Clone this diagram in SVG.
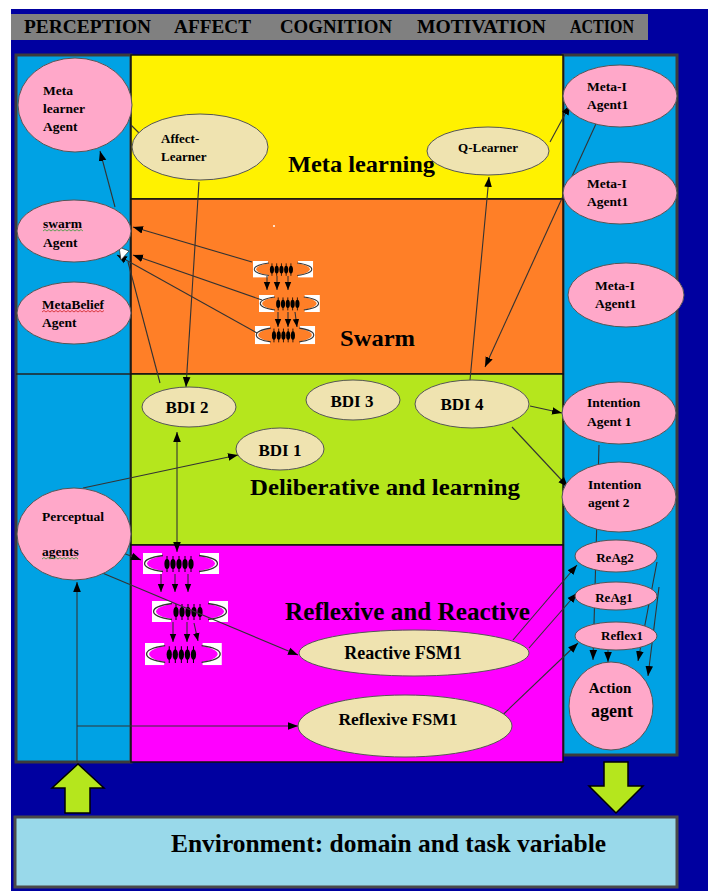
<svg xmlns="http://www.w3.org/2000/svg" xmlns:xlink="http://www.w3.org/1999/xlink" width="715" height="891" viewBox="0 0 715 891">
<style>
.t{font-family:"Liberation Serif","Times New Roman",serif;font-weight:bold;fill:#000}
.s{font-size:13.5px}
.b{font-size:17px}
.L{font-size:24px}
.pink{fill:#FFA8C9;stroke:#555;stroke-width:1}
.beige{fill:#EFE3B0;stroke:#555;stroke-width:1}
.ln{stroke:#333;stroke-width:1.1;fill:none}
.band{stroke:#111;stroke-width:1.5}
.col{fill:#00A2E4;stroke:#3c3c3c;stroke-width:3}
</style>
<defs>
<marker id="ah" viewBox="0 0 10 10" refX="10" refY="5" markerWidth="10" markerHeight="10" markerUnits="userSpaceOnUse" orient="auto-start-reverse"><path d="M0,1.2 L10,5 L0,8.8 z" fill="#000"/></marker>
<marker id="ahs" viewBox="0 0 10 10" refX="10" refY="5" markerWidth="8" markerHeight="8" markerUnits="userSpaceOnUse" orient="auto"><path d="M0,1 L10,5 L0,9 z" fill="#000"/></marker>
<g id="swarm">
<rect x="0" y="0" width="19" height="21" fill="#fff"/>
<rect x="57" y="0" width="19" height="21" fill="#fff"/>
<ellipse cx="38" cy="10.5" rx="34" ry="9" fill="currentColor"/>
<path d="M20,2.5 A34,9 0 0 0 20,18.5 M56,2.5 A34,9 0 0 1 56,18.5" fill="none" stroke="#333" stroke-width="1.3"/>
<path d="M24,3v16 M30,3v16 M36,3v16 M42,3v16 M48,3v16" stroke="#000" stroke-width="1"/>
<g fill="#000"><ellipse cx="24" cy="11" rx="2.6" ry="5"/><ellipse cx="30" cy="11" rx="2.6" ry="5"/><ellipse cx="36" cy="11" rx="2.6" ry="5"/><ellipse cx="42" cy="11" rx="2.6" ry="5"/><ellipse cx="48" cy="11" rx="2.6" ry="5"/></g>
</g>
</defs>

<rect x="0" y="0" width="715" height="891" fill="#fff"/>
<rect x="11" y="9" width="697" height="882" fill="#0000A0"/>

<g id="header">
<rect x="11" y="14" width="637" height="26" fill="#808080"/>
<text class="t" x="24" y="33" font-size="19" textLength="127" lengthAdjust="spacingAndGlyphs">PERCEPTION</text>
<text class="t" x="174" y="33" font-size="19" textLength="77" lengthAdjust="spacingAndGlyphs">AFFECT</text>
<text class="t" x="280" y="33" font-size="19" textLength="112" lengthAdjust="spacingAndGlyphs">COGNITION</text>
<text class="t" x="417" y="33" font-size="19" textLength="129" lengthAdjust="spacingAndGlyphs">MOTIVATION</text>
<text class="t" x="570" y="33" font-size="19" textLength="64" lengthAdjust="spacingAndGlyphs">ACTION</text>
</g>

<g id="frame">
<rect class="col" x="16" y="55" width="115" height="707"/>
<line x1="16" y1="374" x2="131" y2="374" stroke="#222" stroke-width="1.5"/>
<rect class="col" x="563" y="55" width="114" height="700"/>
<rect class="band" x="131" y="55" width="432" height="144" fill="#FFF200"/>
<rect class="band" x="131" y="199" width="432" height="175" fill="#FF7F27"/>
<rect class="band" x="131" y="374" width="432" height="171" fill="#B5E61D"/>
<rect class="band" x="131" y="545" width="432" height="217" fill="#FF00FF"/>
<text class="t L" x="288" y="172" textLength="147" lengthAdjust="spacingAndGlyphs">Meta learning</text>
<text class="t L" x="340" y="346" textLength="75" lengthAdjust="spacingAndGlyphs">Swarm</text>
<text class="t L" x="250" y="495" textLength="270" lengthAdjust="spacingAndGlyphs">Deliberative  and learning</text>
<text class="t" x="285" y="620" font-size="25" textLength="245" lengthAdjust="spacingAndGlyphs">Reflexive and Reactive</text>
<circle cx="274" cy="226" r="1" fill="#fff"/>
</g>

<g id="environment">
<rect x="15" y="817" width="662" height="70" fill="#99D9EA" stroke="#4a4a4a" stroke-width="3"/>
<text class="t" x="171" y="852" font-size="25" textLength="435" lengthAdjust="spacingAndGlyphs">Environment:  domain and task variable</text>
</g>
<g id="arrow-up"><path d="M65,813 L65,788 L52,788 L78,764 L104,788 L90,788 L90,813 Z" fill="#B5E61D" stroke="#000" stroke-width="1.5"/></g>
<g id="arrow-down"><path d="M604,762 L628,762 L628,786 L643,786 L616,813 L589,786 L604,786 Z" fill="#B5E61D" stroke="#000" stroke-width="1.5"/></g>

<g id="swarm-icons">
<use xlink:href="#swarm" color="#FF7F27" transform="translate(253,261) scale(0.79,0.78)"/>
<use xlink:href="#swarm" color="#FF7F27" transform="translate(259,295) scale(0.8,0.81)"/>
<use xlink:href="#swarm" color="#FF7F27" transform="translate(255,326) scale(0.79,0.86)"/>
<use xlink:href="#swarm" color="#FF00FF" transform="translate(143,553)"/>
<use xlink:href="#swarm" color="#FF00FF" transform="translate(152,601)"/>
<use xlink:href="#swarm" color="#FF00FF" transform="translate(145,643) scale(1.01,1.05)"/>
</g>

<g id="connectors">
<line class="ln" x1="131" y1="125" x2="148" y2="142"/>
<line class="ln" x1="115" y1="207" x2="100" y2="151" marker-end="url(#ah)"/>
<line class="ln" x1="252" y1="262" x2="133" y2="227" marker-end="url(#ah)"/>
<line class="ln" x1="262" y1="300" x2="133" y2="255" marker-end="url(#ah)"/>
<line class="ln" x1="257" y1="333" x2="117" y2="255" marker-end="url(#ah)"/>
<path d="M119,247 L129,251 L121,260 Z" fill="#fff" stroke="#333" stroke-width="0.8"/>
<line class="ln" x1="128" y1="262" x2="160" y2="383"/>
<line class="ln" x1="199" y1="182" x2="186" y2="387" marker-end="url(#ah)"/>
<line class="ln" x1="177" y1="432" x2="177" y2="552" marker-start="url(#ah)" marker-end="url(#ah)"/>
<line class="ln" x1="83" y1="488" x2="238" y2="455" marker-end="url(#ah)"/>
<line class="ln" x1="123" y1="553" x2="141" y2="560" marker-end="url(#ah)"/>
<line class="ln" x1="100" y1="572" x2="298" y2="655" marker-end="url(#ah)"/>
<line class="ln" stroke="#666" x1="77" y1="762" x2="77" y2="582" marker-end="url(#ah)"/>
<line class="ln" stroke="#666" x1="77" y1="726" x2="298" y2="726" marker-end="url(#ah)"/>
<line class="ln" x1="470" y1="380" x2="489" y2="177" marker-end="url(#ah)"/>
<line class="ln" x1="550" y1="142" x2="570" y2="105" marker-end="url(#ah)"/>
<line class="ln" x1="600" y1="115" x2="485" y2="367" marker-end="url(#ah)"/>
<line class="ln" x1="530" y1="406" x2="562" y2="413" marker-end="url(#ah)"/>
<line class="ln" x1="512" y1="427" x2="568" y2="487" marker-end="url(#ah)"/>
<line class="ln" x1="513" y1="640" x2="577" y2="565" marker-end="url(#ah)"/>
<line class="ln" x1="529" y1="648" x2="577" y2="593" marker-end="url(#ah)"/>
<line class="ln" x1="490" y1="727" x2="578" y2="643" marker-end="url(#ah)"/>
<line class="ln" x1="599" y1="445" x2="593" y2="660" marker-end="url(#ah)"/>
<line class="ln" x1="608" y1="650" x2="608" y2="662" marker-end="url(#ah)"/>
<line class="ln" x1="657" y1="562" x2="638" y2="661" marker-end="url(#ah)"/>
<line class="ln" x1="659" y1="587" x2="648" y2="676" marker-end="url(#ah)"/>
<line class="ln" x1="161" y1="574" x2="161" y2="592" marker-end="url(#ahs)"/>
<line class="ln" x1="175" y1="574" x2="175" y2="592" marker-end="url(#ahs)"/>
<line class="ln" x1="188" y1="574" x2="188" y2="592" marker-end="url(#ahs)"/>
<line class="ln" x1="173" y1="622" x2="173" y2="642" marker-end="url(#ahs)"/>
<line class="ln" x1="187" y1="622" x2="187" y2="642" marker-end="url(#ahs)"/>
<line class="ln" x1="194" y1="623" x2="198" y2="641" marker-end="url(#ahs)"/>
<line class="ln" x1="267" y1="276" x2="267" y2="290" marker-end="url(#ahs)"/>
<line class="ln" x1="277" y1="276" x2="277" y2="290" marker-end="url(#ahs)"/>
<line class="ln" x1="288" y1="276" x2="288" y2="290" marker-end="url(#ahs)"/>
<line class="ln" x1="278" y1="312" x2="278" y2="327" marker-end="url(#ahs)"/>
<line class="ln" x1="288" y1="312" x2="288" y2="327" marker-end="url(#ahs)"/>
<line class="ln" x1="295" y1="312" x2="297" y2="327" marker-end="url(#ahs)"/>
</g>

<g id="meta-learner-agent"><ellipse class="pink" cx="75" cy="105" rx="57" ry="47"/>
<text class="t s" x="43" y="95">Meta</text><text class="t s" x="43" y="113">learner</text><text class="t s" x="43" y="131">Agent</text></g>
<g id="affect-learner"><ellipse class="beige" cx="200" cy="147" rx="68" ry="33"/>
<text class="t" font-size="13" x="161" y="143">Affect-</text><text class="t" font-size="13" x="161" y="161">Learner</text></g>
<g id="swarm-agent"><ellipse class="pink" cx="74" cy="231" rx="57" ry="31"/>
<text class="t s" x="43" y="228">swarm</text><text class="t s" x="43" y="247">Agent</text>
<path d="M43,231 l2,-1.5 l2,1.5 l2,-1.5 l2,1.5 l2,-1.5 l2,1.5 l2,-1.5 l2,1.5 l2,-1.5 l2,1.5 l2,-1.5 l2,1.5 l2,-1.5 l2,1.5 l2,-1.5 l2,1.5 l2,-1.5 l2,1.5 l2,-1.5 l2,1.5" fill="none" stroke="#3a9a3a" stroke-width="0.8"/></g>
<g id="metabelief-agent"><ellipse class="pink" cx="74" cy="313" rx="57" ry="31"/>
<text class="t" font-size="13" x="42" y="309" textLength="62" lengthAdjust="spacingAndGlyphs">MetaBelief</text><text class="t s" x="42" y="327">Agent</text>
<path d="M42,312 l2,-1.5 l2,1.5 l2,-1.5 l2,1.5 l2,-1.5 l2,1.5 l2,-1.5 l2,1.5 l2,-1.5 l2,1.5 l2,-1.5 l2,1.5 l2,-1.5 l2,1.5 l2,-1.5 l2,1.5 l2,-1.5 l2,1.5 l2,-1.5 l2,1.5 l2,-1.5 l2,1.5 l2,-1.5 l2,1.5 l2,-1.5 l2,1.5 l2,-1.5 l2,1.5 l2,-1.5 l2,1.5 l2,-1.5" fill="none" stroke="#d02020" stroke-width="0.8"/></g>
<g id="perceptual-agents"><ellipse class="pink" cx="74" cy="534" rx="57" ry="46"/>
<text class="t s" x="42" y="521">Perceptual</text><text class="t s" x="42" y="556">agents</text>
<path d="M42,559 l2,-1.5 l2,1.5 l2,-1.5 l2,1.5 l2,-1.5 l2,1.5 l2,-1.5 l2,1.5 l2,-1.5 l2,1.5 l2,-1.5 l2,1.5 l2,-1.5 l2,1.5 l2,-1.5 l2,1.5 l2,-1.5 l2,1.5" fill="none" stroke="#3a9a3a" stroke-width="0.8"/></g>

<g id="q-learner"><ellipse class="beige" cx="488" cy="151" rx="61" ry="24"/>
<text class="t" font-size="13" x="488" y="152" text-anchor="middle">Q-Learner</text></g>
<g id="meta-i-agent1-a"><ellipse class="pink" cx="620" cy="96" rx="57" ry="31"/>
<text class="t s" x="587" y="91">Meta-I</text><text class="t s" x="587" y="109">Agent1</text></g>
<g id="meta-i-agent1-b"><ellipse class="pink" cx="620" cy="193" rx="57" ry="31"/>
<text class="t s" x="587" y="188">Meta-I</text><text class="t s" x="587" y="206">Agent1</text></g>
<g id="meta-i-agent1-c"><ellipse class="pink" cx="626" cy="295" rx="58" ry="32"/>
<text class="t s" x="595" y="290">Meta-I</text><text class="t s" x="595" y="308">Agent1</text></g>

<g id="bdi2"><ellipse class="beige" cx="189" cy="407" rx="47" ry="20"/>
<text class="t b" x="187" y="413" text-anchor="middle">BDI 2</text></g>
<g id="bdi3"><ellipse class="beige" cx="353" cy="400" rx="47" ry="20"/>
<text class="t b" x="352" y="407" text-anchor="middle">BDI 3</text></g>
<g id="bdi4"><ellipse class="beige" cx="472" cy="404" rx="57" ry="24"/>
<text class="t b" x="462" y="410" text-anchor="middle">BDI 4</text></g>
<g id="bdi1"><ellipse class="beige" cx="280" cy="449" rx="44" ry="21"/>
<text class="t b" x="280" y="456" text-anchor="middle">BDI 1</text></g>

<g id="intention-agent-1"><ellipse class="pink" cx="619" cy="413" rx="57" ry="31"/>
<text class="t s" x="587" y="407">Intention</text><text class="t s" x="587" y="426">Agent 1</text></g>
<g id="intention-agent-2"><ellipse class="pink" cx="619" cy="497" rx="57" ry="35"/>
<text class="t s" x="588" y="489">Intention</text><text class="t s" x="588" y="507">agent 2</text></g>
<g id="reag2"><ellipse class="pink" cx="616" cy="556" rx="41" ry="16"/>
<text class="t" font-size="13" x="615" y="562" text-anchor="middle">ReAg2</text></g>
<g id="reag1"><ellipse class="pink" cx="616" cy="596" rx="41" ry="14"/>
<text class="t" font-size="13" x="614" y="602" text-anchor="middle">ReAg1</text></g>
<g id="reflex1"><ellipse class="pink" cx="616" cy="636" rx="41" ry="14"/>
<text class="t" font-size="13" x="622" y="640" text-anchor="middle">Reflex1</text></g>
<g id="action-agent"><ellipse class="pink" cx="611" cy="706" rx="42" ry="44"/>
<text class="t" font-size="15" x="610" y="693" text-anchor="middle">Action</text><text class="t" font-size="18" x="612" y="717" text-anchor="middle">agent</text></g>

<g id="reactive-fsm1"><ellipse class="beige" cx="414" cy="653" rx="115" ry="23"/>
<text class="t" font-size="18" x="403" y="659" text-anchor="middle">Reactive FSM1</text></g>
<g id="reflexive-fsm1"><ellipse class="beige" cx="405" cy="726" rx="107" ry="31"/>
<text class="t" font-size="17.5" x="398" y="725" text-anchor="middle">Reflexive FSM1</text></g>
</svg>
